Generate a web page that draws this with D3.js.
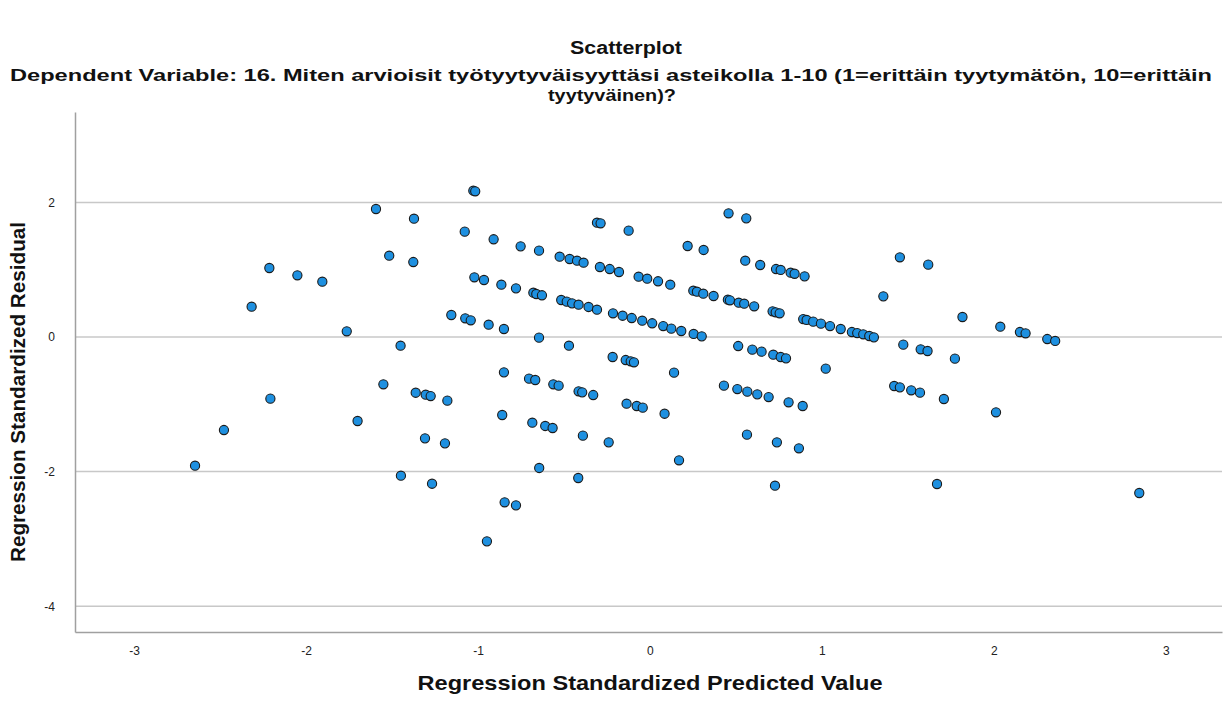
<!DOCTYPE html>
<html>
<head>
<meta charset="utf-8">
<script src="https://cdn.jsdelivr.net/npm/d3@7"></script>
<style>
  body { margin: 0; background: #fff; }
  svg { font-family: "Liberation Sans", Arial, sans-serif; }
</style>
</head>
<body>
<svg width="1226" height="708"></svg>
<script>
// regression standardized predicted value (x) and residual (y)
var predicted = [
  -2.213, -2.05, -1.905, -2.316, -1.763, -2.645, -2.477, -2.207, -1.70,
  -1.027, -1.016, -1.593, -1.372, -1.077, -0.909, -0.752, -0.645, -0.525, -0.467, -0.424,
  -0.386, -0.291, -0.234, -0.18, -0.066, -0.016, 0.047, 0.118, -0.308, -0.287, -0.124,
  -1.516, -1.376, -1.021, -0.965, -0.864, -0.779, -0.678, -0.661, -0.628, -0.516,
  -0.484, -0.453, -0.415, -0.357, -0.308, -0.215, -0.159, -0.106, -0.045, 0.013,
  -1.155, -1.074, -1.042, -0.938, -0.849, -0.645, -1.45, -0.471, -0.217, -0.141,
  -0.112, -0.093, -0.849, -0.703, -0.667, -0.562, -0.531, -1.55, -1.362, -1.304,
  -1.275, -1.178, -0.415, -0.394, -0.33, -0.136, -0.077, -0.042, 0.085, -0.859,
  -0.684, -0.609, -0.566, -1.308, -1.192, -0.39, -0.24, -0.644, -1.448, -1.267,
  -0.417, -0.845, -0.779, -0.948,
  0.457, 0.56, 0.219, 0.312, 0.554, 0.641, 0.733, 0.76, 0.818, 0.841, 0.899,
  1.453, 1.618, 1.357, 0.252, 0.273, 0.31, 0.37, 0.453, 0.465, 0.516, 0.548, 0.606,
  0.713, 0.731, 0.754, 0.891, 0.911, 0.949, 0.994, 1.047, 1.109, 1.174, 1.205, 1.24,
  1.275, 1.302, 0.077, 0.124, 0.182, 0.254, 0.301, 0.513, 0.595, 0.649, 0.717, 0.76,
  0.791, 0.14, 1.022, 1.473, 1.574, 1.614, 1.773, 0.43, 0.508, 0.566, 0.624, 0.69,
  0.806, 0.888, 0.169, 0.564, 0.738, 0.866, 0.727, 1.42, 1.453, 1.519, 1.57, 1.709,
  1.669, 2.012, 2.845, 1.817, 2.037, 2.151, 2.184, 2.31, 2.356
];
var residual = [
  1.025, 0.917, 0.822, 0.45, 0.085, -1.912, -1.382, -0.916, -1.248,
  2.174, 2.165, 1.902, 1.758, 1.565, 1.452, 1.347, 1.283, 1.193, 1.159, 1.134,
  1.104, 1.04, 1.01, 0.966, 0.896, 0.866, 0.828, 0.777, 1.698, 1.689, 1.58,
  1.208, 1.114, 0.887, 0.847, 0.777, 0.723, 0.658, 0.639, 0.62, 0.55,
  0.525, 0.5, 0.48, 0.446, 0.406, 0.352, 0.316, 0.282, 0.242, 0.204,
  0.327, 0.278, 0.248, 0.183, 0.119, -0.01, -0.129, -0.129, -0.297, -0.342,
  -0.361, -0.376, -0.525, -0.619, -0.639, -0.703, -0.723, -0.703, -0.828, -0.857,
  -0.877, -0.946, -0.807, -0.822, -0.862, -0.991, -1.025, -1.05, -1.14, -1.159,
  -1.273, -1.322, -1.352, -1.506, -1.58, -1.466, -1.565, -1.946, -2.061, -2.18,
  -2.095, -2.456, -2.501, -3.036,
  1.838, 1.763, 1.352, 1.293, 1.134, 1.07, 1.01, 0.996, 0.955, 0.94, 0.901,
  1.184, 1.075, 0.604, 0.688, 0.673, 0.643, 0.609, 0.554, 0.545, 0.51, 0.495, 0.456,
  0.382, 0.367, 0.352, 0.267, 0.253, 0.228, 0.198, 0.163, 0.119, 0.074, 0.059, 0.04,
  0.015, -0.005, 0.163, 0.124, 0.089, 0.045, 0.01, -0.134, -0.188, -0.218, -0.263, -0.297,
  -0.317, -0.53, -0.47, -0.114, -0.183, -0.208, -0.322, -0.723, -0.773, -0.812, -0.852, -0.892,
  -0.97, -1.025, -1.832, -1.451, -1.565, -1.654, -2.209, -0.728, -0.748, -0.792, -0.827, -0.921,
  -2.184, -1.119, -2.318, 0.297, 0.153, 0.074, 0.055, -0.03, -0.059
];
var xTicks = [-3, -2, -1, 0, 1, 2, 3];
var yTicks = [2, 0, -2, -4];

var svg = d3.select("svg"),
    margin = {top: 112, right: 4, bottom: 76, left: 75},
    width = +svg.attr("width") - margin.left - margin.right,
    height = +svg.attr("height") - margin.top - margin.bottom,
    g = svg.append("g").attr("transform", "translate(" + margin.left + "," + margin.top + ")");

var x = d3.scaleLinear().domain([-3.343, 3.326]).range([0, width]);
var y = d3.scaleLinear().domain([-4.383, 3.343]).range([height, 0]);

// plain hyphen for negatives, like the original
var fmt = function(d) { return String(d); };

// horizontal grid lines
g.append("g")
  .selectAll("line")
  .data(yTicks)
  .enter().append("line")
    .attr("x1", 0)
    .attr("x2", width)
    .attr("y1", function(d) { return y(d); })
    .attr("y2", function(d) { return y(d); })
    .attr("stroke", "#c8c8c8")
    .attr("stroke-width", 1.5);

// axes
var yAxis = g.append("g")
    .call(d3.axisLeft(y).tickValues(yTicks).tickSize(0).tickPadding(20).tickFormat(fmt));
var xAxis = g.append("g")
    .attr("transform", "translate(0," + height + ")")
    .call(d3.axisBottom(x).tickValues(xTicks).tickSize(0).tickPadding(14).tickFormat(fmt));

[xAxis, yAxis].forEach(function(a) {
  a.select(".domain").attr("stroke", "#a0a0a0").attr("stroke-width", 1.5);
  a.selectAll("text").attr("font-size", 12).attr("fill", "#222")
    .attr("font-family", "'Liberation Sans', Arial, sans-serif");
});

// points
g.append("g")
  .selectAll("circle")
  .data(predicted)
  .enter().append("circle")
    .attr("cx", function(d) { return x(d); })
    .attr("cy", function(d, i) { return y(residual[i]); })
    .attr("r", 4.6)
    .attr("fill", "#1e90e0")
    .attr("stroke", "#1a1a1a")
    .attr("stroke-width", 1.1);

// titles
function title(txt, cx, cy, size, len) {
  return svg.append("text")
    .attr("x", cx).attr("y", cy)
    .attr("text-anchor", "middle")
    .attr("font-size", size).attr("font-weight", "bold")
    .attr("fill", "#111")
    .attr("textLength", len)
    .attr("lengthAdjust", "spacingAndGlyphs")
    .text(txt);
}

title("Scatterplot", 626, 54, 18, 112);
title("Dependent Variable: 16. Miten arvioisit työtyytyväisyyttäsi asteikolla 1-10 (1=erittäin tyytymätön, 10=erittäin", 611, 81, 17, 1202);
title("tyytyväinen)?", 612, 101, 17, 128);
title("Regression Standardized Predicted Value", 650, 690, 21, 465);

svg.append("text")
    .attr("transform", "translate(25,392) rotate(-90)")
    .attr("text-anchor", "middle")
    .attr("font-size", 20.5).attr("font-weight", "bold")
    .attr("fill", "#111")
    .attr("textLength", 340)
    .attr("lengthAdjust", "spacingAndGlyphs")
    .text("Regression Standardized Residual");
</script>
</body>
</html>
